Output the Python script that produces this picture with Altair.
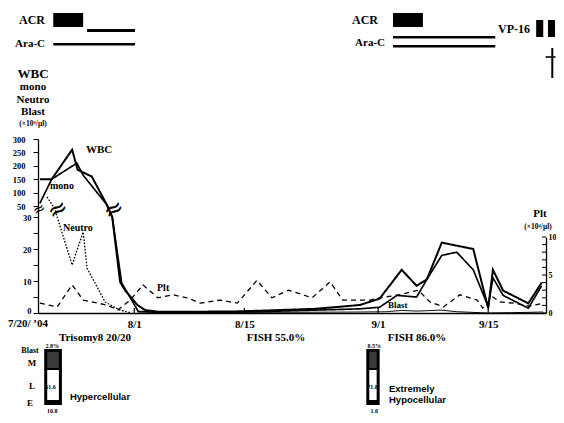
import altair as alt
import pandas as pd

SERIF = "Liberation Serif"
SANS = "Liberation Sans"

# ---- data: x = days after 2004-07-20 ----
wbc_day = [0, 1.5, 4.1, 4.8, 6.6, 8.5, 9.2, 10.2, 10.8, 12.4, 13.4, 15, 20, 25, 29, 35, 40.7, 43.2, 46.0, 47.9, 49.2, 51.1, 55.1, 57.0, 57.6, 58.9, 62.1, 63.8]
wbc_val = [150, 150, 260, 185, 160, 55, 30, 9.7, 7.2, 2.5, 0.9, 0.4, 0.4, 0.5, 0.8, 1.3, 2.5, 4.5, 13.5, 8.5, 10.5, 22, 20, 1.5, 13.5, 7, 3, 9.5]

mono_day = [0, 1.5, 4.7, 5.5, 8.5, 9.2, 10.4, 12.5, 15, 25, 29, 35, 40.7, 43.2, 45.4, 47.9, 49.2, 51.1, 53.0, 55.1, 57.0, 57.6, 58.9, 62.1, 63.8]
mono_val = [60, 150, 210, 165, 55, 30, 9.4, 0.5, 0.2, 0.3, 0.5, 0.9, 1.3, 1.8, 5.5, 5, 10.5, 18, 19, 13.5, 2, 11, 5.5, 1.5, 8.5]

neutro_day = [0.9, 1.9, 2.2, 4.1, 5.5, 6.0, 8.3, 10.2, 11.5]
neutro_val = [84, 45, 30, 15, 25.3, 14, 3.4, 0.9, 0.1]

blast_day = [12.5, 20, 30, 40, 44, 46, 48, 51, 53, 56, 57, 60, 64]
blast_val = [0, 0.1, 0.2, 0.3, 0.4, 0.8, 0.6, 0.9, 0.4, 0.1, 0, 0.1, 0.3]

plt_day = [0, 2.2, 4.1, 5.5, 8.5, 9.9, 11.5, 13.1, 15.0, 16.9, 18.7, 20.4, 22.9, 25.1, 27.6, 29.5, 31.6, 34.6, 36.9, 38.5, 42.0, 43.2, 45.8, 48.1, 49.6, 51.3, 53.4, 55.6, 56.3, 57.6, 58.5, 60.2, 62.3, 64.0]
plt_val = [1.3, 0.8, 3.7, 1.7, 1.05, 0.4, 1.7, 3.7, 2.0, 2.4, 2.0, 1.3, 1.7, 1.3, 4.3, 2.0, 3.0, 2.0, 4.1, 1.7, 1.7, 2.0, 2.4, 3.0, 1.45, 0.8, 2.4, 1.7, 0.65, 2.1, 1.45, 1.3, 0.9, 1.3]

series_names = ["WBC", "mono", "Neutro", "Blast"]
series_width = [2.0, 1.0, 1.6, 2.6]
series_dash = [[1, 0], [1, 0], [1.6, 1.6], [1, 0]]

tick_days = [12, 26, 43, 57]
tick_labels = ["8/1", "8/15", "9/1", "9/15"]

acr_start, acr_end = [1.7, 44.9], [5.5, 48.7]
acr_cont_start, acr_cont_end = [6.0], [12.1]
arac1_start, arac1_end = [1.7], [12.1]
arac2_start, arac2_end = [44.9], [57.9]
vp16_start, vp16_end = [63.1, 64.6], [64.0, 65.5]
death_day = [65.15]
death_bar_start, death_bar_end = [64.3, 65.55]

bm_start, bm_end = [0.55, 41.5], [2.8, 43.2]
bm_blast = ["2.8%", "8.5%"]
bm_mid = ["51.6", "71.8"]
bm_e = ["10.8", "1.0"]

left_ticks = [0, 5, 10, 15, 20, 25, 30, 50, 100, 150, 200, 250, 300]
right_ticks = list(range(11))

# ---- frames ----
rows = []
for name, ds, vs in [("WBC", wbc_day, wbc_val), ("mono", mono_day, mono_val),
                     ("Neutro", neutro_day, neutro_val), ("Blast", blast_day, blast_val)]:
    for d, v in zip(ds, vs):
        rows.append({"series": name, "day": d, "value": v})
counts = pd.DataFrame(rows)
plt_df = pd.DataFrame({"day": plt_day, "plt": plt_val})
dummy = pd.DataFrame({"k": [0]})

W, H = 508, 174
xscale = alt.Scale(domain=[-0.24, 64.35], nice=False, zero=False)
plt_scale = alt.Scale(domain=[0, 10], range=[H, 98], nice=False, zero=False)

label_expr = " : ".join(
    f"datum.value == {d} ? '{l}'" for d, l in zip(tick_days, tick_labels)) + " : ''"

lines = alt.Chart(counts).mark_line(color="black").encode(
    x=alt.X("day:Q", scale=xscale, title=None,
            axis=alt.Axis(values=tick_days, labelExpr=label_expr, tickSize=0, labelPadding=5,
                          labelFont=SERIF, labelFontWeight="bold", labelFontSize=11,
                          labelColor="black", domainColor="black", domainWidth=1.3,
                          grid=False, labelOverlap=False, labelFlush=False, title=None)),
    y=alt.Y("value:Q",
            scale=alt.Scale(domain=[0, 30, 50, 300], range=[H, 78, 67, 0], nice=False, zero=False),
            axis=alt.Axis(values=left_ticks,
                          labelExpr="(datum.value <= 30 && datum.value % 10 == 0) || datum.value >= 50 ? datum.label : ''",
                          tickSize=5, tickColor="black", domainColor="black", domainWidth=1.3,
                          labelFont=SERIF, labelFontWeight="bold", labelFontSize=8.5,
                          labelColor="black", grid=False, title=None, labelOverlap=False,
                          labelFlush=False,
                          labelOffset={"condition": {"test": "datum.value == 0", "value": -3}, "value": 0},
                          labelPadding={"condition": {"test": "datum.value >= 50", "value": 8}, "value": 2})),
    detail="series:N",
    strokeWidth=alt.StrokeWidth("series:N", scale=alt.Scale(domain=series_names, range=series_width), legend=None),
    strokeDash=alt.StrokeDash("series:N", scale=alt.Scale(domain=series_names, range=series_dash), legend=None),
)

plt_line = alt.Chart(plt_df).mark_line(color="black", strokeDash=[5, 4], strokeWidth=1.3).encode(
    x=alt.X("day:Q", scale=xscale, title=None),
    y=alt.Y("plt:Q", scale=plt_scale,
            axis=alt.Axis(orient="right", values=right_ticks,
                          labelExpr="datum.value % 5 == 0 ? datum.label : ''",
                          tickSize=0, domainColor="black", domainWidth=1.3,
                          labelFont=SERIF, labelFontWeight="bold", labelFontSize=8,
                          labelColor="black", grid=False, title=None, labelPadding=2,
                          labelOverlap=False, labelFlush=False)),
)

# inward ticks on the Plt axis
rticks = alt.Chart(pd.DataFrame({"v": right_ticks})).mark_rule(color="black", strokeWidth=1).encode(
    x=alt.value(W - 4), x2=alt.value(W),
    y=alt.Y("v:Q", scale=plt_scale, axis=None))

ticks_df = pd.DataFrame({"day": tick_days})
xticks = alt.Chart(ticks_df).mark_rule(color="black", strokeWidth=1.2).encode(
    x=alt.X("day:Q", scale=xscale, title=None), y=alt.value(H), y2=alt.value(H - 5))


def seg_rect(starts, ends, y1, y2, color="black"):
    df = pd.DataFrame({"start": starts, "end": ends})
    return alt.Chart(df).mark_rect(color=color).encode(
        x=alt.X("start:Q", scale=xscale, title=None), x2="end:Q",
        y=alt.value(y1), y2=alt.value(y2))


def label(txt, x, y, size=11, align="center", font=SERIF, weight="bold", angle=0):
    return alt.Chart(dummy).mark_text(
        text=txt, fontSize=size, align=align, baseline="middle", font=font,
        fontWeight=weight, color="black", angle=angle).encode(x=alt.value(x), y=alt.value(y))


layers = [lines, plt_line, rticks, xticks]

# treatments
layers += [
    seg_rect(acr_start, acr_end, -126, -112),
    seg_rect(acr_cont_start, acr_cont_end, -110, -107),
    seg_rect(arac1_start, arac1_end, -96, -93.5),
    seg_rect(arac2_start, arac2_end, -103, -100.5),
    seg_rect(arac2_start, arac2_end, -94, -91.5),
    seg_rect(vp16_start, vp16_end, -119, -102),
]
death_df = pd.DataFrame({"day": death_day, "s": [death_bar_start], "e": [death_bar_end]})
layers += [
    alt.Chart(death_df).mark_rule(color="black", strokeWidth=2).encode(
        x=alt.X("day:Q", scale=xscale, title=None), y=alt.value(-91), y2=alt.value(-61)),
    alt.Chart(death_df).mark_rule(color="black", strokeWidth=1.6).encode(
        x=alt.X("s:Q", scale=xscale, title=None), x2="e:Q", y=alt.value(-82)),
]

# bone marrow boxes
layers += [seg_rect(bm_start, bm_end, 210, 266, "black")]
bm_df = pd.DataFrame({"start": bm_start, "end": bm_end, "b": bm_blast, "m": bm_mid, "e": bm_e})
layers += [
    alt.Chart(bm_df).mark_rect(color="#3a3a3a", xOffset=3, x2Offset=-3).encode(
        x=alt.X("start:Q", scale=xscale, title=None), x2="end:Q", y=alt.value(213), y2=alt.value(229)),
    alt.Chart(bm_df).mark_rect(color="white", xOffset=3, x2Offset=-3).encode(
        x=alt.X("start:Q", scale=xscale, title=None), x2="end:Q", y=alt.value(231), y2=alt.value(261)),
    alt.Chart(bm_df).mark_text(fontSize=6, font=SERIF, fontWeight="bold", color="black", dx=8).encode(
        x=alt.X("start:Q", scale=xscale, title=None), text="b:N", y=alt.value(207)),
    alt.Chart(bm_df).mark_text(fontSize=6, font=SERIF, fontWeight="bold", color="black", align="left", dx=1).encode(
        x=alt.X("start:Q", scale=xscale, title=None), text="m:N", y=alt.value(248)),
    alt.Chart(bm_df).mark_text(fontSize=6, font=SERIF, fontWeight="bold", color="black", dx=8).encode(
        x=alt.X("start:Q", scale=xscale, title=None), text="e:N", y=alt.value(272)),
]

# texts
layers += [
    label("ACR", 7, -119, 12, "right"),
    label("Ara-C", 7, -95, 11, "right"),
    label("ACR", 340, -119, 12, "right"),
    label("Ara-C", 347, -96, 11, "right"),
    label("VP-16", 492, -110, 12, "right"),
    label("WBC", -5, -65, 13),
    label("mono", -5, -52, 11),
    label("Neutro", -5, -39, 11),
    label("Blast", -5, -27, 11),
    label("(\u00d710\u00b3/\u03bcl)", -5, -15, 7.5),
    label("Plt", 502, 75, 11),
    label("(\u00d710\u2074/\u03bcl)", 500, 88, 7.5),
    label("WBC", 48, 11, 11, "left"),
    label("mono", 12, 47, 10, "left"),
    label("Neutro", 25, 89, 10, "left"),
    label("Plt", 119, 149, 10, "left"),
    label("Blast", 350, 166, 9, "left"),
    label("\u2248", 20, 71, 24, font="DejaVu Sans", weight="normal", angle=330),
    label("\u2248", 76, 71, 24, font="DejaVu Sans", weight="normal", angle=330),
    label("\u2248", 1, 70, 15, font="DejaVu Sans", weight="normal", angle=330),
    label("7/20/ \u201904", -10, 185, 11),
    label("Trisomy8 20/20", 57, 199, 11),
    label("FISH 55.0%", 238, 199, 11),
    label("FISH 86.0%", 379, 199, 11),
    label("Blast", -8, 212, 8),
    label("M", -6, 224, 9),
    label("L", -6, 247, 9),
    label("E", -8, 264, 9),
    label("Hypercellular", 62, 258, 9.5, font=SANS),
    label("Extremely", 351, 250, 9.5, "left", font=SANS),
    label("Hypocellular", 351, 261, 9.5, "left", font=SANS),
]

chart = alt.layer(*layers).resolve_scale(y="independent").properties(
    width=W, height=H,
    padding={"left": 30, "top": 131, "right": 10, "bottom": 102},
    autosize=alt.AutoSizeParams(type="none"),
    background="white",
).configure_view(stroke=None)

chart.save("out.html", embed_options={"renderer": "svg", "actions": False})
